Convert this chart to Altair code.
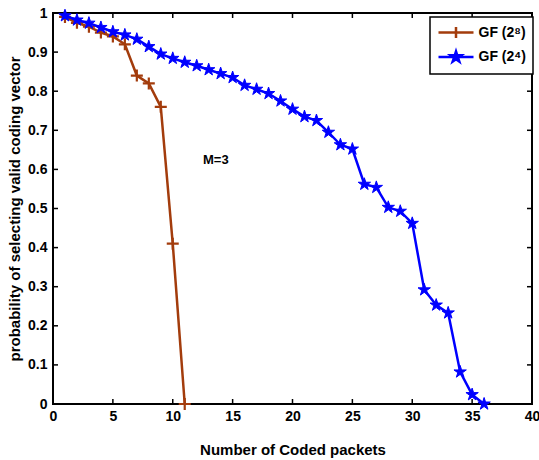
import altair as alt
import pandas as pd

# ---- data ----
x_red = list(range(1, 12))
p_red = [0.99, 0.975, 0.965, 0.95, 0.94, 0.92, 0.84, 0.82, 0.76, 0.41, 0.0]

x_blue = list(range(1, 37))
p_blue = [0.993, 0.982, 0.974, 0.963, 0.952, 0.944, 0.933, 0.914, 0.895, 0.884,
          0.874, 0.865, 0.855, 0.845, 0.835, 0.815, 0.805, 0.794, 0.775, 0.754,
          0.735, 0.725, 0.695, 0.663, 0.652, 0.562, 0.554, 0.503, 0.493, 0.462,
          0.292, 0.253, 0.233, 0.082, 0.024, 0.0]

series_names = ["GF (2\u2078)", "GF (2\u2074)"]
series_colors = ["#A33C0C", "#0000FF"]

x_ticks = [0, 5, 10, 15, 20, 25, 30, 35, 40]
y_ticks = [0, 0.1, 0.2, 0.3, 0.4, 0.5, 0.6, 0.7, 0.8, 0.9, 1.0]

note_text = ["M=3"]
note_x = [13.6]
note_y = [0.624]

# ---- styling ----
W, H = 479, 391
FONT = "Liberation Sans"


def star_path(r, prefix=""):
    outer = [(0, -1), (0.9511, -0.309), (0.5878, 0.809), (-0.5878, 0.809), (-0.9511, -0.309)]
    inner = [(0.2245, -0.309), (0.3633, 0.118), (0, 0.382), (-0.3633, 0.118), (-0.2245, -0.309)]
    pts = []
    for o, i in zip(outer, inner):
        pts.append(o)
        pts.append(i)
    return prefix + "M" + "L".join(f"{px * r:.4f},{py * r:.4f}" for px, py in pts) + "Z"


PLUS = "M-1,0L1,0M0,-1L0,1"
STAR = star_path(1.0)
LEG_PLUS = "M-2.5,0L2.5,0M0,-0.8L0,0.8"
LEG_STAR = star_path(0.8, prefix="M-2.5,0L2.5,0")

df = pd.DataFrame({
    "x": x_red + x_blue,
    "p": p_red + p_blue,
    "series": [series_names[0]] * len(x_red) + [series_names[1]] * len(x_blue),
})
xt_df = pd.DataFrame({"x": x_ticks})
yt_df = pd.DataFrame({"p": y_ticks})
note_df = pd.DataFrame({"x": note_x, "p": note_y, "t": note_text})

xs = alt.Scale(domain=[0, 40], nice=False, zero=False)
ys = alt.Scale(domain=[0, 1], nice=False, zero=False)

X_AX = alt.Axis(values=x_ticks, title="Number of Coded packets", ticks=False, domain=False,
                grid=False, labelPadding=5, titlePadding=19, labelFlush=False,
                labelOverlap=False, labelAngle=0)
Y_AX = alt.Axis(values=y_ticks, format=".1~f", title="probability of selecting valid coding vector",
                ticks=False, domain=False, grid=False, labelPadding=6, titlePadding=5,
                labelOverlap=False, labelFlush=False)


def X():
    return alt.X("x:Q", scale=xs, axis=X_AX)


def Y():
    return alt.Y("p:Q", scale=ys, axis=Y_AX)


base = alt.Chart(df)
red = base.transform_filter(alt.datum.series == series_names[0])
blue = base.transform_filter(alt.datum.series == series_names[1])

red_line = red.mark_line(strokeWidth=2.5, color=series_colors[0]).encode(x=X(), y=Y())
red_pts = red.mark_point(shape=PLUS, size=144, filled=False, opacity=1,
                         strokeWidth=2.2, color=series_colors[0]).encode(x=X(), y=Y())
blue_line = blue.mark_line(strokeWidth=2.5, color=series_colors[1]).encode(x=X(), y=Y())
blue_pts = blue.mark_point(shape=STAR, size=169, filled=True, opacity=1,
                           color=series_colors[1], stroke=series_colors[1],
                           strokeWidth=1).encode(x=X(), y=Y())

LEG = alt.Legend(title=None, orient="none", legendX=377, legendY=4, padding=7,
                 strokeColor="black", fillColor="white",
                 symbolSize=196, symbolStrokeWidth=2.5, symbolOffset=10.5,
                 labelOffset=14, rowPadding=1.5,
                 labelFont=FONT, labelFontSize=14, labelFontWeight="bold",
                 labelColor="black")

legend_layer = base.transform_filter("false").mark_point(filled=True, opacity=1).encode(
    x=X(), y=Y(),
    fill=alt.Fill("series:N", scale=alt.Scale(domain=series_names, range=series_colors), legend=LEG),
    stroke=alt.Stroke("series:N", scale=alt.Scale(domain=series_names, range=series_colors), legend=LEG),
    shape=alt.Shape("series:N", scale=alt.Scale(domain=series_names, range=[LEG_PLUS, LEG_STAR]), legend=LEG),
)

note = alt.Chart(note_df).mark_text(font=FONT, fontSize=13, fontWeight="bold", color="black").encode(
    x=X(), y=Y(), text="t:N",
)

tick_style = dict(color="black", strokeWidth=1.5)
tb = alt.Chart(xt_df).mark_rule(**tick_style).encode(x=X(), y=alt.value(H), y2=alt.value(H - 5))
tt = alt.Chart(xt_df).mark_rule(**tick_style).encode(x=X(), y=alt.value(0), y2=alt.value(5))
tl = alt.Chart(yt_df).mark_rule(**tick_style).encode(y=Y(), x=alt.value(0), x2=alt.value(5))
tr = alt.Chart(yt_df).mark_rule(**tick_style).encode(y=Y(), x=alt.value(W), x2=alt.value(W - 5))

chart = alt.layer(
    red_line, tb, tt, tl, tr, red_pts, blue_line, blue_pts, note, legend_layer
).properties(
    width=W, height=H,
    autosize=alt.AutoSizeParams(type="none"),
    padding={"left": 53, "top": 13, "right": 7, "bottom": 56},
    background="white",
).configure_view(
    stroke="black", strokeWidth=2
).configure_axis(
    labelFont=FONT, labelFontSize=14, labelFontWeight="bold", labelColor="black",
    titleFont=FONT, titleFontSize=15, titleFontWeight="bold", titleColor="black",
).configure_legend(
    strokeWidth=1.5
)

chart.save("out.html", embed_options={"renderer": "svg", "actions": False})
